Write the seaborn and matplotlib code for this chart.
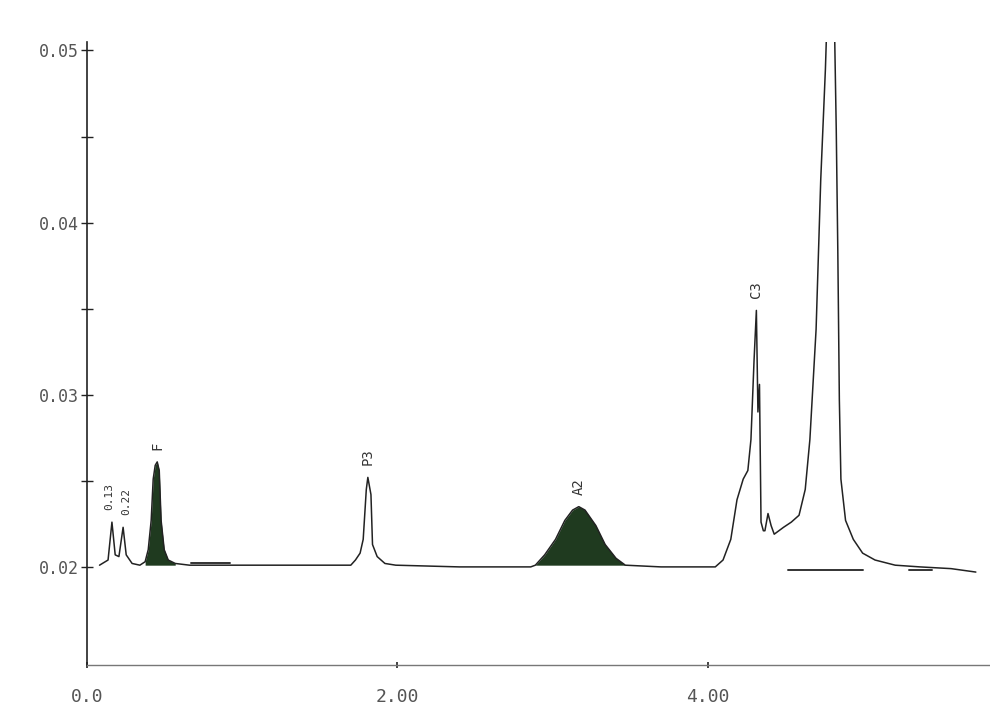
import numpy as np
import pandas as pd
import matplotlib
matplotlib.use("Agg")
import matplotlib.pyplot as plt
import seaborn as sns
from matplotlib.ticker import FixedLocator

# Chromatogram trace (time in min, absorbance)
time = [0.08, 0.135, 0.16, 0.181, 0.205, 0.232, 0.252, 0.29, 0.34,
        0.374, 0.394, 0.413, 0.426, 0.439, 0.452, 0.465, 0.477, 0.497, 0.523, 0.568,
        0.66, 1.0, 1.40, 1.70, 1.73, 1.76, 1.78, 1.80, 1.81, 1.83, 1.84, 1.87, 1.92, 1.99,
        2.40, 2.86, 2.89, 2.95, 3.02, 3.08, 3.13, 3.17, 3.21, 3.28, 3.34, 3.41, 3.47,
        3.70, 3.95, 4.05, 4.10, 4.15, 4.19, 4.23, 4.26, 4.28, 4.30, 4.315, 4.325, 4.335,
        4.345, 4.36, 4.37, 4.39, 4.41, 4.43, 4.46, 4.49, 4.54, 4.59, 4.63, 4.66, 4.70,
        4.73, 4.76, 4.785, 4.81, 4.83, 4.84, 4.85, 4.86, 4.89, 4.94, 5.00, 5.08, 5.21,
        5.37, 5.57, 5.73]
absorb = [0.0201, 0.0204, 0.0226, 0.0207, 0.0206, 0.0223, 0.0207, 0.0202, 0.0201,
          0.0203, 0.0210, 0.0227, 0.0251, 0.0259, 0.0261, 0.0256, 0.0227, 0.0210, 0.0204, 0.0202,
          0.0201, 0.0201, 0.0201, 0.0201, 0.0204, 0.0208, 0.0216, 0.0245, 0.0252, 0.0242, 0.0213,
          0.0206, 0.0202, 0.0201,
          0.0200, 0.0200, 0.0201, 0.0207, 0.0216, 0.0227, 0.0233, 0.0235, 0.0233, 0.0224,
          0.0213, 0.0205, 0.0201,
          0.0200, 0.0200, 0.0200, 0.0204, 0.0216, 0.0239, 0.0251, 0.0256, 0.0274, 0.0320,
          0.0349, 0.0290, 0.0306,
          0.0226, 0.0221, 0.0221, 0.0231, 0.0224, 0.0219, 0.0221, 0.0223, 0.0226, 0.0230,
          0.0245, 0.0274, 0.0338,
          0.0425, 0.0489, 0.0560, 0.0560, 0.0454, 0.0384, 0.0297, 0.0251, 0.0227, 0.0216,
          0.0208, 0.0204, 0.0201,
          0.0200, 0.0199, 0.0197]

# Peak labels
peak_names = ["0.13", "0.22", "F", "P3", "A2", "C3"]
peak_times = [0.145, 0.25, 0.452, 1.81, 3.17, 4.315]
peak_tops = [0.0226, 0.0223, 0.0261, 0.0252, 0.0235, 0.0349]
peak_sizes = [8, 8, 10, 10, 10, 10]

# Filled (integrated) peak windows
filled_ranges = [(0.374, 0.568), (2.89, 3.47)]
baseline_level = 0.0201

# Integration baseline marks
mark_starts = [0.67, 4.52, 5.30]
mark_ends = [0.92, 5.00, 5.45]
mark_levels = [0.0202, 0.0198, 0.0198]

y_ticks = [0.02, 0.03, 0.04, 0.05]
y_minor = [0.025, 0.035, 0.045]
y_labels = ["0.02", "0.03", "0.04", "0.05"]
x_ticks = [0.0, 2.0, 4.0, 6.0]
x_labels = ["0.0", "2.00", "4.00", "6.00"]

sns.set_theme(style="white")
plt.rcParams['font.family'] = ['DejaVu Sans Mono', 'DejaVu Sans']

fig = plt.figure(figsize=(9.9, 7.28), dpi=100)
ax = fig.add_axes([0.088, 0.0865, 0.94, 0.856])

df = pd.DataFrame({"time": time, "absorbance": absorb})
sns.lineplot(data=df, x="time", y="absorbance", ax=ax, color="#222222",
             linewidth=1.1, estimator=None, sort=False)

t_arr = np.array(time)
a_arr = np.array(absorb)
for lo, hi in filled_ranges:
    m = (t_arr >= lo) & (t_arr <= hi)
    ax.fill_between(t_arr[m], baseline_level, a_arr[m], color="#1f3a1f", linewidth=0)

for s, e, lv in zip(mark_starts, mark_ends, mark_levels):
    ax.plot([s, e], [lv, lv], color="#333333", linewidth=1.4)

for name, t, top, fs in zip(peak_names, peak_times, peak_tops, peak_sizes):
    ax.text(t, top + 0.0007, name, rotation=90, ha="center", va="bottom",
            fontsize=fs, color="#333333")

ax.set_xlim(0, 6.0)
ax.set_ylim(0.0143, 0.0505)
ax.set_xticks(x_ticks)
ax.set_xticklabels(x_labels)
ax.set_yticks(y_ticks)
ax.set_yticklabels(y_labels)
ax.yaxis.set_minor_locator(FixedLocator(y_minor))
ax.tick_params(axis="y", which="both", direction="inout", length=8, width=1,
               colors="#222222", labelcolor="#555555", labelsize=12, left=True, pad=2)
ax.tick_params(axis="x", which="major", direction="inout", length=5, width=1.2,
               colors="#222222", labelcolor="#555555", labelsize=13, bottom=True, pad=14)
ax.set_xlabel("")
ax.set_ylabel("")
for side in ["top", "right"]:
    ax.spines[side].set_visible(False)
ax.spines["left"].set_color("#222222")
ax.spines["bottom"].set_color("#777777")
ax.spines["left"].set_linewidth(1.2)
ax.spines["bottom"].set_linewidth(1.0)
ax.grid(False)

fig.savefig("out.png", dpi=100)
